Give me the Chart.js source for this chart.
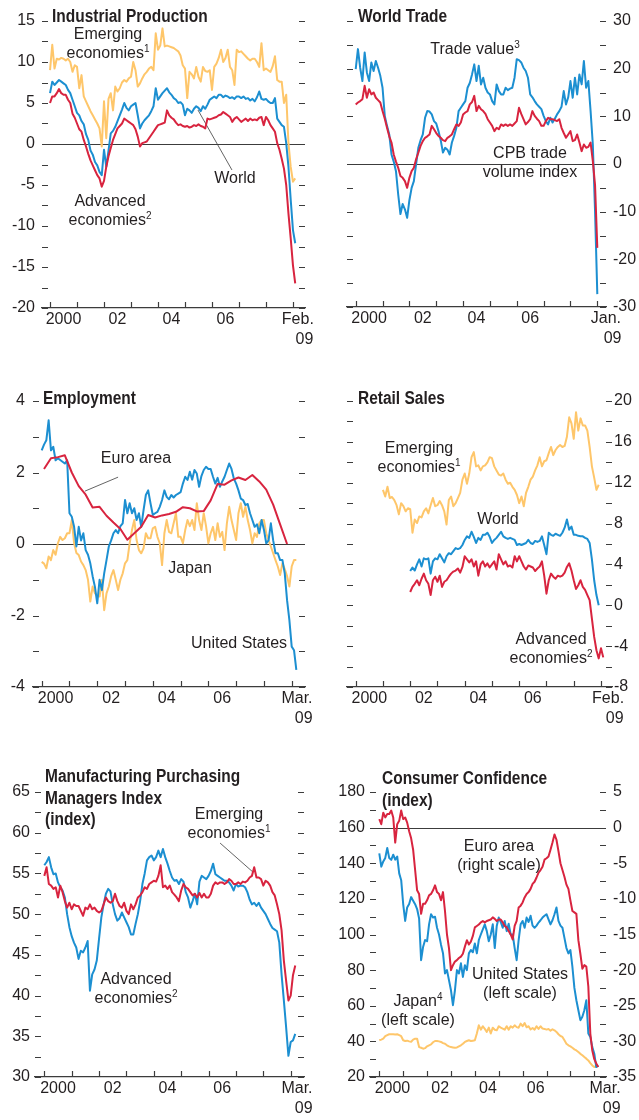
<!DOCTYPE html>
<html>
<head>
<meta charset="utf-8">
<title>Global indicators</title>
<script src="https://cdn.jsdelivr.net/npm/chart.js@4.4.1/dist/chart.umd.min.js"></script>
<style>
  body { margin: 0; background: #fff; }
  #page { position: relative; width: 639px; height: 1120px; overflow: hidden; background: #fff;
          font-family: "Liberation Sans", Arial, sans-serif; color: #231f20; }
  canvas { position: absolute; }
  .ttl { position: absolute; font-weight: bold; font-size: 18px; line-height: 21.5px; white-space: nowrap;
         transform: scaleX(0.86); transform-origin: 0 0; }
  .lbl { position: absolute; font-size: 16px; line-height: 19px; white-space: nowrap; text-align: center; transform: translateX(-50%); }
  .lbl sup { font-size: 10px; line-height: 0; vertical-align: 6px; }
</style>
</head>
<body>
<div id="page">
  <canvas id="c1" width="320" height="370" style="left:0;top:0"></canvas>
  <canvas id="c2" width="319" height="370" style="left:320px;top:0"></canvas>
  <canvas id="c3" width="320" height="370" style="left:0;top:380px"></canvas>
  <canvas id="c4" width="319" height="370" style="left:320px;top:380px"></canvas>
  <canvas id="c5" width="320" height="360" style="left:0;top:760px"></canvas>
  <canvas id="c6" width="319" height="360" style="left:320px;top:760px"></canvas>

  <div class="ttl" style="left:52px;top:6px">Industrial Production</div>
  <div class="lbl" style="left:108px;top:24px">Emerging<br>economies<sup>1</sup></div>
  <div class="lbl" style="left:235px;top:168px">World</div>
  <div class="lbl" style="left:110px;top:191px">Advanced<br>economies<sup>2</sup></div>

  <div class="ttl" style="left:358px;top:6px">World Trade</div>
  <div class="lbl" style="left:475px;top:39px">Trade value<sup>3</sup></div>
  <div class="lbl" style="left:530px;top:143px">CPB trade<br>volume index</div>

  <div class="ttl" style="left:43px;top:388px">Employment</div>
  <div class="lbl" style="left:136px;top:448px">Euro area</div>
  <div class="lbl" style="left:190px;top:558px">Japan</div>
  <div class="lbl" style="left:239px;top:633px">United States</div>

  <div class="ttl" style="left:358px;top:388px">Retail Sales</div>
  <div class="lbl" style="left:419px;top:438px">Emerging<br>economies<sup>1</sup></div>
  <div class="lbl" style="left:498px;top:509px">World</div>
  <div class="lbl" style="left:551px;top:629px">Advanced<br>economies<sup>2</sup></div>

  <div class="ttl" style="left:45px;top:766px">Manufacturing Purchasing<br>Managers Index<br>(index)</div>
  <div class="lbl" style="left:229px;top:804px">Emerging<br>economies<sup>1</sup></div>
  <div class="lbl" style="left:136px;top:969px">Advanced<br>economies<sup>2</sup></div>

  <div class="ttl" style="left:382px;top:768px">Consumer Confidence<br>(index)</div>
  <div class="lbl" style="left:499px;top:836px">Euro area<br>(right scale)</div>
  <div class="lbl" style="left:520px;top:964px">United States<br>(left scale)</div>
  <div class="lbl" style="left:418px;top:991px">Japan<sup>4</sup><br>(left scale)</div>
</div>

<script>
// ---- data (monthly, year-on-year % unless noted) ----

// Industrial production, Jan 2000 - Feb 2009
const ipEmerging = [
  9.0, 12.1, 9.2, 10.4, 10.3, 10.5, 10.4, 10.2, 10.4, 10.0, 8.8, 9.6,
  9.4, 6.8, 8.4, 5.8, 5.2, 4.6, 4.0, 3.5, 3.0, 2.5, 1.9, -0.3,
  5.2, 0.7, 5.5, 6.2, 4.1, 7.0, 6.4, 6.8, 7.5, 7.8, 7.6, 8.0,
  8.2, 10.0, 9.0, 7.0, 7.4, 8.0, 8.5, 8.8, 9.2, 9.4, 9.0, 13.5,
  11.5, 12.0, 14.1, 11.9, 12.0, 11.9, 11.8, 11.7, 11.5, 11.3, 10.8, 9.6,
  9.2, 5.6, 8.8, 8.5, 8.0, 9.4, 8.2, 7.6, 9.4, 8.9, 8.8, 9.0,
  6.6, 9.4, 9.8, 10.5, 11.5, 10.0, 10.5, 11.5, 9.4, 9.0, 7.2, 11.5,
  11.2, 11.3, 11.0, 10.7, 10.4, 10.2, 10.4, 10.4, 10.0, 9.4, 12.3, 9.0,
  9.2, 9.0, 8.8, 9.5, 10.7, 7.8, 7.6, 7.6, 5.0, 6.0, 0.1, -2.8,
  -4.6, -4.2
];
const ipWorld = [
  6.2, 7.6, 7.2, 7.5, 7.8, 7.6, 7.4, 7.2, 6.6, 6.2, 5.4, 4.6,
  3.8, 3.5, 2.8, 2.4, 1.2, 0.5, -0.8, -1.3, -2.2, -2.6, -3.4, -3.8,
  -0.7, -2.8, -0.8, 1.3, 1.6, 2.1, 2.8, 3.5, 4.2, 5.0, 4.4, 4.1,
  4.6, 4.8, 5.0, 3.5, 1.9, 2.5, 2.9, 3.2, 3.5, 4.0, 4.6, 6.8,
  5.4, 5.8, 6.2, 6.5, 6.8, 6.3, 6.0, 5.6, 5.4, 5.0, 5.1, 4.8,
  3.5, 4.3, 4.1, 3.8, 4.3, 4.6, 4.4, 4.0, 4.6, 4.3, 4.8, 5.4,
  5.6, 5.8, 5.6, 6.0, 6.0, 5.7, 5.9, 5.8, 5.6, 5.7, 5.5, 5.8,
  5.8, 5.6, 5.8, 5.5, 5.6, 5.3, 5.5, 5.2, 5.7, 6.4, 5.5, 5.4,
  5.5, 5.2, 5.0, 5.0, 5.6, 3.1, 2.7, 2.3, 2.1, 0.1, -2.8, -6.8,
  -10.5, -12.1
];
const ipAdvanced = [
  5.0, 5.8, 5.8, 6.2, 6.7, 6.2, 6.0, 6.0, 5.4, 5.0, 3.7, 3.2,
  2.5, 1.8, 1.5, 0.5, -0.3, -1.2, -2.0, -2.6, -3.2, -3.8, -4.2, -5.2,
  -4.5, -2.8, -1.5, -0.5, 0.5, 1.2, 1.9, 2.2, 2.5, 3.1, 2.9, 2.7,
  2.5, 2.3, 1.8, 0.9, -0.3, 0.1, 0.2, 0.3, 0.7, 1.1, 1.5, 1.9,
  2.3, 2.4, 2.5, 2.6, 4.1, 3.5, 3.2, 3.0, 2.6, 2.3, 2.4, 2.2,
  2.1, 2.2, 2.0, 2.1, 2.3, 2.2, 2.4, 2.2, 2.1, 1.9, 3.1, 3.0,
  3.1, 3.2, 3.3, 3.5, 3.6, 3.9, 3.7, 3.5, 3.3, 2.7, 3.1, 3.3,
  3.0, 2.7, 2.9, 3.1, 2.8, 3.1, 2.9, 3.0, 2.9, 3.2, 3.3, 2.3,
  3.3, 2.9, 2.3, 1.9, 1.5, 0.1, -0.7, -1.8, -3.0, -5.0, -8.5, -11.5,
  -14.8, -17.0
];

// World trade, Jan 2000 - Jan 2009
const tradeValue = [
  19.9, 24.1, 20.2, 17.4, 23.4, 19.2, 17.4, 21.3, 19.5, 21.6, 20.2, 18.5,
  16.0, 10.1, 8.0, 6.2, 2.0, 0.5, -1.5, -6.4, -10.5, -8.4, -9.5, -11.3,
  -7.6, -5.0, -3.6, 0.0, 3.4, 5.0, 6.2, 9.7, 11.1, 11.0, 10.4, 9.0,
  8.5, 6.9, 5.0, 2.4, 3.4, 3.0, 2.0, 4.5, 5.9, 7.6, 11.1, 11.8,
  12.5, 13.2, 16.0, 17.0, 18.8, 20.9, 17.4, 20.6, 16.7, 18.1, 16.0, 15.0,
  14.6, 13.2, 12.5, 16.7, 15.3, 14.6, 14.6, 16.0, 15.5, 15.8, 16.0, 18.1,
  22.0, 21.8, 21.3, 20.2, 19.5, 18.1, 14.6, 14.0, 13.2, 12.5, 12.0, 11.5,
  10.1, 9.0, 8.3, 9.7, 8.7, 9.5, 10.4, 11.1, 12.0, 15.3, 12.5, 14.0,
  17.4, 13.9, 18.1, 14.6, 18.8, 16.7, 21.6, 16.0, 17.4, 11.1, 4.1, -10.0,
  -27.3
];
const tradeVolume = [
  12.5, 12.9, 13.2, 13.6, 16.4, 13.9, 15.7, 14.6, 15.0, 13.9, 13.4, 12.9,
  11.1, 9.5, 7.6, 5.8, 4.5, 2.0, 0.5, -0.8, -2.5, -2.9, -3.6, -5.0,
  -2.9, -1.5, -0.8, 1.0, 2.4, 3.8, 4.8, 5.5, 5.8, 6.2, 8.0, 7.3,
  6.5, 5.9, 5.5, 5.0, 4.8, 5.5, 5.8, 6.2, 7.3, 8.3, 8.0, 8.7,
  10.4, 10.8, 11.1, 12.5, 13.0, 14.3, 11.1, 12.2, 11.5, 11.1, 10.5, 9.4,
  8.7, 8.0, 6.9, 7.6, 7.3, 8.3, 8.0, 8.3, 8.0, 8.3, 8.0, 8.5,
  9.0, 11.8, 10.5, 9.4, 8.3, 8.8, 9.4, 11.1, 10.1, 9.5, 9.0, 8.0,
  8.0, 9.0, 9.7, 9.4, 9.4, 9.2, 9.0, 9.4, 7.6, 6.5, 5.5, 6.2,
  6.9, 4.8, 5.0, 6.2, 4.5, 2.7, 4.1, 3.4, 3.6, 4.5, 0.6, -4.5,
  -17.6
];

// Employment, Jan 2000 - Mar 2009 (euro area quarterly, Q1 2000 - Q4 2008)
const empUS = [
  2.62, 2.78, 2.9, 3.46, 2.62, 2.72, 2.34, 2.4, 2.35, 2.3, 2.25, 2.34,
  0.86, 0.76, 0.48, -0.07, 0.48, 0.1, 0.3, -0.17, -0.3, -0.54, -0.9, -1.2,
  -1.66, -1.0, -1.29, -0.82, -0.45, -0.07, 0.1, 0.3, 0.39, 0.3, 0.5, 0.58,
  1.23, 0.86, 1.14, 0.86, 1.0, 0.67, 0.86, 0.48, 0.95, 1.37, 1.5, 1.14,
  0.81, 0.86, 0.9, 1.04, 1.23, 1.5, 1.32, 1.25, 1.37, 1.3, 1.37, 1.41,
  1.45, 1.69, 1.88, 1.79, 2.02, 1.8, 2.07, 1.97, 1.6, 1.9, 2.07, 2.16,
  2.1, 2.1, 1.88, 1.69, 1.85, 1.6, 1.75, 1.88, 2.07, 2.25, 2.1, 1.83,
  1.69, 1.5, 1.27, 1.23, 1.09, 1.12, 0.86, 0.67, 0.48, 0.55, 0.3, 0.67,
  0.4, 0.02, 0.1, 0.58, 0.1, -0.26, -0.26, -0.45, -0.45, -0.82, -1.57, -2.13,
  -2.87, -2.97, -3.52
];
const empEuroQ = [
  2.1, 2.4, 2.43, 2.48, 2.0, 1.62, 1.38, 1.02, 1.04, 0.79, 0.6, 0.42,
  0.12, 0.3, 0.48, 0.81, 0.74, 0.8, 0.84, 0.9, 1.03, 1.0, 0.91, 0.92,
  1.22, 1.68, 1.66, 1.78, 1.86, 1.79, 1.93, 1.75, 1.52, 1.1, 0.55, 0.0
];
const empJapan = [
  -0.5, -0.55, -0.68, -0.35, -0.45, -0.17, -0.3, 0.02, 0.2, 0.11, 0.16, 0.3,
  0.3, 0.67, 0.02, -0.25, -0.31, -0.49, -0.59, -0.73, -1.0, -1.61, -1.19, -1.38,
  -1.45, -1.47, -1.0, -1.85, -1.38, -1.19, -0.9, -0.73, -1.0, -1.29, -1.0, -0.82,
  -0.54, -0.45, 0.02, 0.39, 0.67, 0.11, -0.17, -0.26, -0.12, 0.3, 0.16, 0.16,
  0.44, 0.48, 0.2, 0.02, -0.59, 0.3, 0.67, 0.34, 0.3, 0.58, 0.86, 0.2,
  0.2, 0.02, 0.39, 0.67, 0.5, 0.67, 0.39, 1.14, 0.67, 0.39, 0.86, 0.5,
  0.02, 0.3, 0.48, 0.11, 0.58, 0.2, 0.34, -0.17, 0.58, 1.04, 0.67, 0.39,
  0.11, 0.86, 1.14, 0.76, 1.04, 0.67, 0.39, 0.02, 0.3, 0.2, 0.58, 0.67,
  0.67, 0.3, 0.11, -0.07, -0.26, -0.45, -0.63, -0.87, -0.54, -0.7, -0.9, -1.19,
  -0.63, -0.45, -0.45
];

// Retail sales: emerging Jan 2001 - Dec 2008, world Jan 2002 - Dec 2008, advanced Jan 2002 - Feb 2009
const retailEmerging = [
  11.3, 10.65, 11.6, 10.5, 10.6, 10.3, 9.8, 8.9, 10.0, 9.7, 9.2, 9.5,
  9.4, 7.1, 8.4, 8.05, 8.7, 8.6, 9.2, 9.5, 9.0, 9.8, 10.5, 9.7,
  9.8, 10.2, 9.8, 9.2, 7.9, 10.3, 10.65, 9.7, 10.0, 10.5, 11.0, 12.3,
  12.9, 11.9, 12.9, 14.5, 15.0, 13.6, 13.7, 13.2, 13.6, 13.7, 14.0, 14.5,
  14.4, 13.6, 13.2, 12.8, 12.7, 12.9, 12.3, 11.9, 12.0, 11.6, 11.3, 10.8,
  10.0, 10.65, 9.7, 11.0, 11.6, 12.3, 12.6, 13.2, 13.7, 14.5, 13.6, 14.1,
  14.2, 14.9, 15.5, 14.7, 15.2, 15.5, 15.7, 15.5, 15.6, 16.5, 18.4, 17.8,
  16.3, 18.9, 17.1, 18.3, 17.6, 17.6, 17.1, 15.5, 13.6, 12.5, 11.3, 11.8
];
const retailWorld = [
  3.35, 3.7, 3.4, 4.0, 4.5, 3.8, 4.6, 4.5, 4.6, 3.1, 4.3, 4.6,
  4.5, 5.0, 4.6, 4.2, 4.8, 5.1, 5.0, 5.3, 5.6, 5.5, 5.6, 5.9,
  6.4, 6.75, 6.6, 7.2, 6.7, 6.1, 6.6, 6.4, 6.9, 6.9, 7.1, 6.7,
  6.1, 6.4, 6.6, 6.9, 7.2, 6.75, 6.6, 6.5, 6.6, 6.5, 6.4, 5.9,
  6.0, 5.9, 6.0, 6.1, 6.4, 6.1, 6.0, 6.3, 6.2, 6.3, 6.75, 5.9,
  5.0, 7.1, 6.9, 6.8, 7.0, 6.9, 6.8, 7.1, 7.6, 8.4, 7.4, 7.7,
  6.9, 6.9, 6.8, 6.75, 6.75, 6.6, 6.5, 6.1, 4.5, 2.45, 1.0, 0.0
];
const retailAdvanced = [
  1.3, 1.8, 2.1, 2.45, 1.96, 2.6, 3.1, 2.45, 2.1, 1.0, 2.45, 2.8,
  2.3, 2.9, 1.8, 2.3, 2.45, 2.8, 3.1, 3.3, 3.4, 3.6, 3.2, 3.75,
  4.8, 4.5, 4.2, 4.5, 3.8, 4.3, 2.9, 4.0, 4.3, 3.8, 4.1, 3.7,
  4.0, 4.3, 3.5, 5.0, 4.5, 4.0, 4.3, 3.8, 3.9, 3.7, 4.8, 4.3,
  4.8, 4.3, 3.8, 3.5, 3.9, 3.8, 3.7, 3.35, 3.6, 3.8, 4.3, 2.9,
  1.14, 2.45, 3.1, 2.8, 2.6, 2.9, 2.8, 2.9, 3.2, 3.75, 4.1, 3.4,
  2.45, 1.6, 1.96, 2.45, 1.8, 1.5, 1.0, 0.5, -1.3, -3.1, -4.4, -5.2,
  -4.2, -5.1
];

// Manufacturing PMI (index), Jan 2000 - Mar 2009
const pmiEmerging = [
  54.7, 55.75, 53.7, 53.5, 53.1, 53.3, 52.05, 53.5, 52.7, 51.6, 50.8, 51.4,
  50.6, 51.2, 51.0, 51.0, 50.4, 49.8, 50.8, 50.6, 51.2, 50.6, 50.8, 50.4,
  50.2, 50.4, 51.2, 52.05, 51.6, 51.4, 51.6, 52.5, 51.6, 51.0, 50.8, 51.4,
  50.4, 50.0, 51.2, 50.6, 51.2, 52.05, 52.3, 52.7, 53.3, 53.1, 53.7, 53.9,
  54.1, 54.0, 54.7, 56.0, 53.3, 53.5, 53.1, 53.5, 52.7, 52.4, 52.05, 51.6,
  52.9, 53.7, 53.3, 53.1, 52.7, 52.3, 52.5, 52.05, 52.6, 52.05, 52.5, 52.05,
  52.05, 52.5, 53.5, 53.9, 53.7, 53.9, 53.9, 53.7, 53.9, 54.3, 54.1, 53.7,
  53.7, 53.9, 53.7, 54.0, 53.9, 54.1, 54.5, 54.7, 55.75, 54.5, 54.5, 54.3,
  53.5, 54.1, 53.9, 53.5, 52.7, 52.3, 51.2, 50.0, 48.0, 44.3, 41.8, 39.4,
  40.0, 42.5, 43.7
];
const pmiAdvanced = [
  56.0, 56.4, 57.0, 55.75, 54.9, 55.0, 53.9, 53.3, 52.9, 52.05, 50.0, 48.4,
  47.3, 46.5, 45.9, 44.5, 45.5, 45.3, 45.9, 46.7, 40.6, 42.6, 43.2, 44.3,
  47.0, 49.6, 51.2, 52.5, 53.1, 52.8, 51.2, 50.0, 49.2, 49.5, 50.2, 49.6,
  49.0, 48.4, 47.5, 47.5, 48.8, 50.0, 51.6, 53.7, 55.0, 56.6, 57.0, 57.2,
  56.6, 57.0, 57.8, 57.0, 58.0, 57.0, 56.2, 55.3, 54.5, 54.1, 54.2, 53.7,
  54.3, 54.0, 52.7, 52.05, 50.8, 51.6, 52.5, 51.2, 54.0, 54.7, 54.5, 54.3,
  54.7, 55.3, 56.2, 54.9, 54.7, 54.5, 54.3, 54.1, 54.1, 53.9, 53.5, 52.9,
  53.7, 53.4, 53.5, 53.5, 53.3, 52.7, 51.8, 51.2, 51.4, 51.0, 51.4, 50.8,
  50.4, 50.0, 49.4, 48.8, 48.3, 48.1, 47.9, 46.5, 42.6, 39.4, 36.1, 32.6,
  34.3, 34.5, 35.3
];

// Consumer confidence: euro area balance (right), US and Japan index (left)
const ccEuro = [
  1.19, 0.48, 2.1, 1.43, 1.9, 1.9, 2.4, 1.43, -2.1, 0.48, 0.95, 2.4,
  1.19, 1.43, 0.7, -0.5, -1.5, -3.1, -5.95, -8.8, -9.3, -12.1, -10.7, -10.7,
  -10.2, -9.5, -9.3, -8.8, -8.1, -9.05, -9.3, -10.2, -9.05, -11.7, -15.0, -16.9,
  -20.0, -19.3, -18.8, -18.6, -18.3, -18.1, -17.7, -16.7, -15.8, -16.4, -16.0, -15.2,
  -14.0, -13.8, -13.6, -13.3, -13.1, -13.3, -13.1, -13.0, -12.9, -12.6, -12.8, -13.1,
  -12.9, -12.9, -13.3, -13.8, -14.0, -14.5, -15.0, -15.7, -13.8, -13.1, -11.2, -10.95,
  -10.5, -9.8, -9.3, -9.05, -8.6, -7.9, -7.6, -7.0, -6.3, -5.95, -5.5, -4.5,
  -4.3, -4.05, -3.1, -2.1, -0.95, -1.7, -3.3, -5.0, -5.95, -6.9, -8.0, -8.6,
  -10.2, -11.7, -11.9, -12.1, -15.8, -17.7, -19.8, -19.3, -19.5, -22.3, -28.9, -31.3,
  -32.5, -33.1, -33.6
];
const ccUS = [
  145.5, 138.1, 141.0, 143.0, 148.6, 142.9, 141.9, 144.8, 142.0, 143.8, 134.3, 130.5,
  117.1, 107.6, 115.2, 117.1, 121.0, 119.0, 117.0, 114.3, 109.0, 85.6, 93.0, 96.9,
  96.2, 105.7, 111.4, 109.5, 110.0, 103.8, 100.0, 94.3, 89.5, 78.1, 80.0, 74.4,
  68.7, 60.3, 68.7, 80.0, 78.1, 83.8, 76.2, 82.8, 80.0, 89.4, 91.3, 90.0,
  95.0, 89.4, 96.9, 100.0, 102.9, 105.7, 101.9, 96.2, 100.0, 105.7, 92.4, 104.8,
  109.5, 107.0, 103.8, 107.6, 101.9, 106.0, 100.0, 100.0, 92.4, 85.6, 96.9, 105.7,
  107.6, 103.8, 109.5, 107.0, 110.5, 105.0, 103.8, 105.0, 106.7, 108.0, 109.5, 110.5,
  111.4, 108.5, 105.7, 108.0, 111.4, 115.2, 107.6, 105.0, 103.8, 98.1, 92.4, 89.4,
  91.3, 81.9, 70.0, 63.1, 57.5, 51.9, 53.8, 57.5, 63.1, 44.4, 42.5, 36.8,
  33.1, 25.6, 26.5
];
const ccJapan = [
  40.6, 41.0, 41.5, 42.9, 43.5, 44.0, 44.0, 44.0, 43.8, 44.0, 43.5, 42.9,
  40.6, 40.2, 40.4, 40.0, 39.8, 41.0, 41.5, 41.5, 36.8, 36.4, 35.9, 36.2,
  37.2, 37.8, 38.3, 39.5, 40.2, 40.2, 40.0, 39.7, 39.0, 38.7, 37.8, 37.2,
  36.8, 36.6, 36.4, 36.6, 37.2, 37.8, 38.7, 39.7, 40.2, 40.6, 40.2, 40.4,
  40.6, 44.4, 49.0, 46.6, 48.5, 47.0, 45.3, 47.7, 44.4, 47.7, 46.5, 46.2,
  48.5, 47.7, 47.2, 46.6, 48.5, 46.6, 48.5, 47.7, 49.0, 48.0, 47.7, 50.0,
  48.5, 50.3, 47.9, 48.5, 46.7, 47.5, 46.6, 48.5, 47.0, 48.5, 47.2, 47.0,
  46.6, 46.9, 46.0, 46.8, 46.2, 45.3, 44.0, 43.0, 42.5, 40.6, 38.7, 37.8,
  37.2, 36.4, 35.5, 34.9, 34.0, 33.0, 32.2, 31.2, 30.3, 29.3, 27.8, 26.5,
  25.6, 26.0
];

// axis labels
const yearLabelPos = [2000.5, 2002.5, 2004.5, 2006.5];
const yearLabels = ['2000', '02', '04', '06'];
const endFeb = ['Feb.', '   09'];
const endJan = ['Jan.', '   09'];
const endMar = ['Mar.', '   09'];

// ---- drawing ----
const FONT = '"Liberation Sans", Arial, sans-serif';
const INK = '#231f20';
const AXIS = '#3c3c3c';
const RED = '#d8243f';
const BLUE = '#1c8fd1';
const GOLD = '#fec66a';

function monthly(year, month, vals) {
  return vals.map((v, i) => ({ x: year + (month + i) / 12, y: v }));
}
function quarterly(year, vals) {
  return vals.map((v, i) => ({ x: year + (3 * i + 1) / 12, y: v }));
}

function line(data, color, axis) {
  return { data, borderColor: color, borderWidth: 2, pointRadius: 0, fill: false,
           tension: 0, yAxisID: axis || 'y', borderJoinStyle: 'round' };
}

function yAxis(pos, min, max, step, every, width, pad, show) {
  return {
    type: 'linear', position: pos, min, max,
    ticks: { stepSize: step, padding: pad, color: INK, display: show, autoSkip: false,
             font: { family: FONT, size: 16 },
             callback: v => Math.abs(v % every) < 1e-6 ? String(v) : '' },
    grid: { display: false, drawTicks: false },
    border: { display: false },
    afterFit: s => { s.width = width; }
  };
}

function xAxis(min, max, pos, labels, height) {
  return {
    type: 'linear', min, max,
    afterBuildTicks: s => { s.ticks = pos.map(v => ({ value: v })); },
    ticks: { autoSkip: false, maxRotation: 0, minRotation: 0, padding: 2, color: INK,
             font: { family: FONT, size: 16, lineHeight: 1.25 },
             callback: (v, i) => labels[i] },
    grid: { display: false, drawTicks: false },
    border: { display: true, color: AXIS, width: 1.3 },
    afterFit: s => { s.height = height; }
  };
}

// dashes on the frame, zero line, year ticks and leader lines
const decor = {
  id: 'decor',
  beforeDatasetsDraw(chart, args, o) {
    const { ctx, chartArea: a, scales } = chart;
    ctx.save();
    ctx.strokeStyle = AXIS;
    ctx.lineWidth = 1;
    const seg = (x1, y1, x2, y2) => { ctx.beginPath(); ctx.moveTo(x1, y1); ctx.lineTo(x2, y2); ctx.stroke(); };
    (o.dashes || []).forEach(([id, side]) => {
      const s = scales[id];
      s.ticks.forEach(t => {
        const y = Math.round(s.getPixelForValue(t.value)) + 0.5;
        if (side === 'left') seg(a.left, y, a.left + 6, y);
        else seg(a.right - 6, y, a.right, y);
      });
    });
    if (o.zero) {
      const y = Math.round(scales[o.zero].getPixelForValue(0)) + 0.5;
      seg(a.left, y, a.right, y);
    }
    const xs = scales.x;
    ctx.lineWidth = 1.2;
    for (let yr = Math.ceil(xs.min); yr <= xs.max; yr++) {
      const x = Math.round(xs.getPixelForValue(yr)) + 0.5;
      seg(x, a.bottom, x, a.bottom - 6);
    }
    ctx.lineWidth = 0.8;
    (o.leaders || []).forEach(([x1, y1, x2, y2, id]) => {
      const ys = scales[id || 'y'];
      seg(xs.getPixelForValue(x1), ys.getPixelForValue(y1), xs.getPixelForValue(x2), ys.getPixelForValue(y2));
    });
    ctx.restore();
  }
};

function panel(id, datasets, scales, padding, decorOpts) {
  return new Chart(document.getElementById(id), {
    type: 'line',
    data: { datasets },
    options: {
      responsive: false, animation: false, devicePixelRatio: 1, events: [],
      layout: { padding },
      scales,
      plugins: { legend: { display: false }, tooltip: { enabled: false }, decor: decorOpts }
    },
    plugins: [decor]
  });
}

// Industrial Production
panel('c1', [
  line(monthly(2000, 0, ipAdvanced), RED),
  line(monthly(2000, 0, ipWorld), BLUE),
  line(monthly(2000, 0, ipEmerging), GOLD)
], {
  x: xAxis(1999.703, 2009.446, [...yearLabelPos, 2009.18], [...yearLabels, endFeb], 50),
  y: yAxis('left', -20, 15, 2.5, 5, 42, 7, true)
}, { left: 0, right: 15, top: 21, bottom: 12 },
{ dashes: [['y', 'left'], ['y', 'right']], zero: 'y', leaders: [[2005.48, 4.15, 2006.74, -3.17]] });

// World Trade
panel('c2', [
  line(monthly(2000, 0, tradeVolume), RED),
  line(monthly(2000, 0, tradeValue), BLUE)
], {
  x: xAxis(1999.676, 2009.324, [...yearLabelPos, 2009.32], [...yearLabels, endJan], 50),
  y: yAxis('right', -30, 30, 5, 10, 33, 7, true)
}, { left: 27, right: 0, top: 21, bottom: 13 },
{ dashes: [['y', 'left'], ['y', 'right']], zero: 'y' });

// Employment
panel('c3', [
  line(quarterly(2000, empEuroQ), RED),
  line(monthly(2000, 0, empUS), BLUE),
  line(monthly(2000, 0, empJapan), GOLD)
], {
  x: xAxis(1999.687, 2009.479, [...yearLabelPos, 2009.19], [...yearLabels, endMar], 50),
  y: yAxis('left', -4, 4, 1, 2, 33, 8, true)
}, { left: 0, right: 15, top: 21, bottom: 13 },
{ dashes: [['y', 'left'], ['y', 'right']], zero: 'y', leaders: [[2001.56, 1.48, 2002.75, 1.87]] });

// Retail Sales
panel('c4', [
  line(monthly(2002, 0, retailAdvanced), RED),
  line(monthly(2002, 0, retailWorld), BLUE),
  line(monthly(2001, 0, retailEmerging), GOLD)
], {
  x: xAxis(1999.681, 2009.404, [...yearLabelPos, 2009.26], [...yearLabels, endFeb], 50),
  y: yAxis('right', -8, 20, 2, 4, 27, 2, true)
}, { left: 27, right: 0, top: 21, bottom: 13 },
{ dashes: [['y', 'left'], ['y', 'right']] });

// Manufacturing PMI
panel('c5', [
  line(monthly(2000, 0, pmiEmerging), RED),
  line(monthly(2000, 0, pmiAdvanced), BLUE)
], {
  x: xAxis(1999.66, 2009.486, [...yearLabelPos, 2009.23], [...yearLabels, endMar], 43),
  y: yAxis('left', 30, 65, 2.5, 5, 35, 5, true)
}, { left: 0, right: 16, top: 32, bottom: 0 },
{ dashes: [['y', 'left'], ['y', 'right']], leaders: [[2006.42, 58.73, 2007.62, 55.17]] });

// Consumer Confidence
panel('c6', [
  line(monthly(2000, 0, ccEuro), RED, 'y2'),
  line(monthly(2000, 0, ccUS), BLUE),
  line(monthly(2000, 0, ccJapan), GOLD)
], {
  x: xAxis(1999.611, 2009.49, [2000.55, 2002.55, 2004.55, 2006.55, 2009.45], [...yearLabels, endMar], 43),
  y: yAxis('left', 20, 180, 10, 20, 50, 5, true),
  y2: yAxis('right', -35, 5, 2.5, 5, 33, 7, true)
}, { left: 0, right: 0, top: 32, bottom: 0 },
{ dashes: [['y', 'left'], ['y2', 'right']], zero: 'y2' });
</script>
</body>
</html>
